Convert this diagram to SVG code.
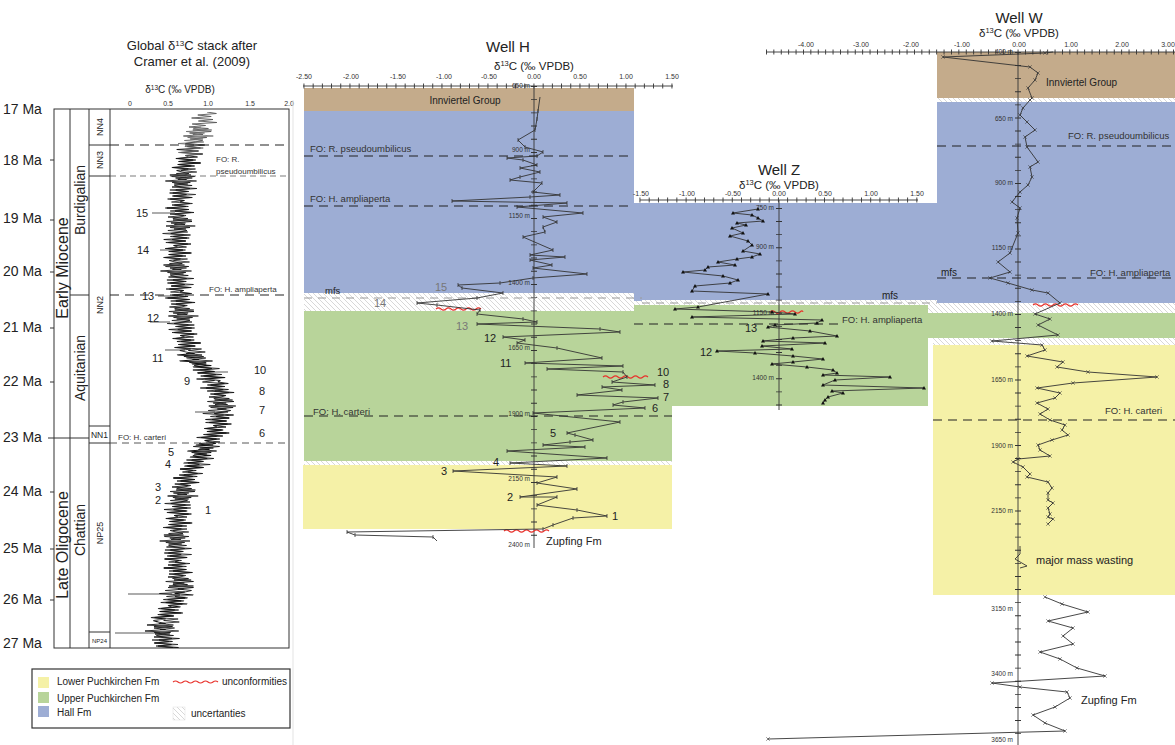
<svg xmlns="http://www.w3.org/2000/svg" width="1175" height="745" viewBox="0 0 1175 745">
<style>
text{font-family:"Liberation Sans",Arial,sans-serif;fill:#222}
.ax{font-size:7px;fill:#333;text-anchor:middle}
.dep{font-size:6.5px;fill:#333;text-anchor:end}
.fo{font-size:9.5px;fill:#333}
.fos{font-size:8px;fill:#333}
.num{font-size:11px;fill:#222}
.gnum{font-size:11px;fill:#777}
.ma{font-size:14px;fill:#222}
.ttl{font-size:15px;text-anchor:middle}
.sub{font-size:11.5px;text-anchor:middle}
.dash{stroke:#222;stroke-width:1.2;stroke-dasharray:9 6;fill:none}
.mfs{stroke:#9a9a9a;stroke-width:1;stroke-dasharray:8 6;fill:none}
.wave{stroke:#e8302a;fill:none;stroke-width:1.1}
.curve{fill:none;stroke:#333;stroke-width:0.9}
.ln{stroke:#333;stroke-width:1;fill:none}
.brown{fill:#C4AB8B}.blue{fill:#9DADD4}.green{fill:#B8D49A}.yellow{fill:#F5F1A7}.hatch{fill:url(#hatch)}
</style>
<defs>
<pattern id="hatch" width="5" height="5" patternUnits="userSpaceOnUse">
<rect width="5" height="5" fill="#fff"/>
<path d="M-1,-1 L6,6 M4,-1 L6,1 M-1,4 L1,6" stroke="#b0b0b0" stroke-width="0.5"/>
</pattern>
<marker id="mH" markerWidth="6" markerHeight="6" refX="3" refY="3" markerUnits="userSpaceOnUse"><path d="M3,1 V5" stroke="#333" stroke-width="0.8"/></marker>
<marker id="mZ" markerWidth="6" markerHeight="6" refX="3" refY="3" markerUnits="userSpaceOnUse"><path d="M1,4.6 L3,1 L5,4.6Z" fill="#111"/></marker>
<marker id="mW" markerWidth="6" markerHeight="6" refX="3" refY="3" markerUnits="userSpaceOnUse"><path d="M1.3,1.3 L4.7,4.7 M4.7,1.3 L1.3,4.7" stroke="#333" stroke-width="0.6"/></marker>
<clipPath id="stackClip"><rect x="110" y="112" width="179" height="536"/></clipPath>
<path id="zA" d="M0,0 L10,1.5 L-8,3 L6,4.5 L-13,6 L9,7.5 L-5,9 L14,10.5 L-10,12 L4,13.5 L-12,15 L8,16.5 L-7,18 L12,19.5 L-9,21 L5,22.5 L-14,24 L10,25.5 L-6,27 L7,28.5 L0,30"/>
<path id="zB" d="M0,0 L-9,1.5 L11,3 L-6,4.5 L8,6 L-15,7.5 L7,9 L-10,10.5 L13,12 L-4,13.5 L9,15 L-12,16.5 L6,18 L-8,19.5 L15,21 L-7,22.5 L10,24 L-11,25.5 L5,27 L-6,28.5 L0,30"/>
<path id="zC" d="M0,0 L7,1.5 L-12,3 L13,4.5 L-6,6 L5,7.5 L-16,9 L9,10.5 L-7,12 L11,13.5 L-9,15 L16,16.5 L-5,18 L8,19.5 L-11,21 L6,22.5 L-8,24 L12,25.5 L-10,27 L4,28.5 L0,30"/>
</defs>
<rect width="1175" height="745" fill="#fff"/>

<!-- ============ LEFT PANEL: global stack ============ -->
<g id="global-stack">
<text x="192" y="50" style="font-size:13px" text-anchor="middle">Global δ<tspan dy="-4" style="font-size:8px">13</tspan><tspan dy="4">C stack after</tspan></text>
<text x="192" y="66" style="font-size:13px" text-anchor="middle">Cramer et al. (2009)</text>
<text x="180" y="93" style="font-size:10px" text-anchor="middle">δ<tspan dy="-3" style="font-size:6.5px">13</tspan><tspan dy="3">C (‰ VPDB)</tspan></text>
<text class="ax" x="130" y="106">0</text><text class="ax" x="168" y="106">0.5</text><text class="ax" x="208" y="106">1.0</text><text class="ax" x="250" y="106">1.5</text><text class="ax" x="289" y="106">2.0</text>
<rect x="54" y="109" width="235" height="539" class="ln"/>
<path class="ln" d="M70,109 V648" stroke-width="1.4"/>
<path class="ln" d="M89,109 V648 M110,109 V648"/>
<path class="ln" d="M70,295 H89 M48,438 H89 M89,145 H110 M89,176 H110 M89,426 H110 M89,443 H110 M89,632 H110"/>
<path class="ln" d="M50,160 H54 M50,220 H54 M50,272 H54 M50,328 H54 M50,382 H54 M50,492 H54 M50,549 H54 M50,600 H54"/>
<text class="ma" x="3" y="114">17 Ma</text>
<text class="ma" x="3" y="165">18 Ma</text>
<text class="ma" x="3" y="223">19 Ma</text>
<text class="ma" x="3" y="276">20 Ma</text>
<text class="ma" x="3" y="332">21 Ma</text>
<text class="ma" x="3" y="386">22 Ma</text>
<text class="ma" x="3" y="442">23 Ma</text>
<text class="ma" x="3" y="496">24 Ma</text>
<text class="ma" x="3" y="553">25 Ma</text>
<text class="ma" x="3" y="604">26 Ma</text>
<text class="ma" x="3" y="648">27 Ma</text>
<text transform="translate(68,268) rotate(-90)" style="font-size:16px" text-anchor="middle">Early Miocene</text>
<text transform="translate(68,545) rotate(-90)" style="font-size:16px" text-anchor="middle">Late Oligocene</text>
<text transform="translate(85,200) rotate(-90)" style="font-size:14px" text-anchor="middle">Burdigalian</text>
<text transform="translate(85,368) rotate(-90)" style="font-size:14px" text-anchor="middle">Aquitanian</text>
<text transform="translate(85,530) rotate(-90)" style="font-size:14px" text-anchor="middle">Chattian</text>
<text transform="translate(103,127) rotate(-90)" style="font-size:9px" text-anchor="middle">NN4</text>
<text transform="translate(103,160) rotate(-90)" style="font-size:9px" text-anchor="middle">NN3</text>
<text transform="translate(103,305) rotate(-90)" style="font-size:9px" text-anchor="middle">NN2</text>
<text transform="translate(103,533) rotate(-90)" style="font-size:9px" text-anchor="middle">NP25</text>
<text x="99.5" y="438" style="font-size:8.5px" text-anchor="middle">NN1</text>
<text x="99.5" y="643" style="font-size:6px" text-anchor="middle">NP24</text>
<g clip-path="url(#stackClip)" fill="none" stroke="#111" stroke-width="0.8">
<use href="#zA" transform="translate(207,112) skewX(-21.8)" stroke="#555"/>
<use href="#zB" transform="translate(195,142) skewX(-23.4)"/>
<use href="#zC" transform="translate(182,172) skewX(-3.8)"/>
<use href="#zA" transform="translate(180,202) skewX(0)"/>
<use href="#zB" transform="translate(180,232) skewX(-9.5)"/>
<use href="#zC" transform="translate(175,262) skewX(9.5)"/>
<use href="#zA" transform="translate(180,292) skewX(5.7)"/>
<use href="#zB" transform="translate(183,322) skewX(5.7)"/>
<use href="#zC" transform="translate(186,352) skewX(46.8)"/>
<use href="#zA" transform="translate(218,382) skewX(11.3)"/>
<use href="#zB" transform="translate(224,412) skewX(-25)"/>
<use href="#zC" transform="translate(210,442) skewX(-36.3)"/>
<use href="#zA" transform="translate(188,472) skewX(-14.9)"/>
<use href="#zB" transform="translate(180,502) skewX(-7.6)"/>
<use href="#zC" transform="translate(176,532) skewX(-1.9)"/>
<use href="#zA" transform="translate(175,562) skewX(18.4)"/>
<use href="#zB" transform="translate(185,592) skewX(-42)"/>
<use href="#zC" transform="translate(158,622) skewX(18.4)"/>
<g stroke-width="0.7">
<use href="#zC" transform="translate(201,127) skewX(-22.6) scale(-1,1)" stroke="#666"/>
<use href="#zA" transform="translate(188.5,157) skewX(-14) scale(-1,1)"/>
<use href="#zB" transform="translate(181,187) skewX(-1.9) scale(-1,1)"/>
<use href="#zC" transform="translate(180,217) skewX(-4.8) scale(-1,1)"/>
<use href="#zA" transform="translate(177.5,247) skewX(0) scale(-1,1)"/>
<use href="#zB" transform="translate(177.5,277) skewX(7.6) scale(-1,1)"/>
<use href="#zC" transform="translate(181.5,307) skewX(5.7) scale(-1,1)"/>
<use href="#zA" transform="translate(184.5,337) skewX(30.3) scale(-1,1)"/>
<use href="#zB" transform="translate(202,367) skewX(32.3) scale(-1,1)"/>
<use href="#zC" transform="translate(221,397) skewX(-7.6) scale(-1,1)"/>
<use href="#zA" transform="translate(217,427) skewX(-31) scale(-1,1)"/>
<use href="#zB" transform="translate(199,457) skewX(-26.6) scale(-1,1)"/>
<use href="#zC" transform="translate(184,487) skewX(-11.3) scale(-1,1)"/>
<use href="#zA" transform="translate(178,517) skewX(-4.8) scale(-1,1)"/>
<use href="#zB" transform="translate(175.5,547) skewX(8.5) scale(-1,1)"/>
<use href="#zC" transform="translate(180,577) skewX(-15.8) scale(-1,1)"/>
<use href="#zA" transform="translate(171.5,607) skewX(-15.8) scale(-1,1)"/>
<use href="#zB" transform="translate(163,637) skewX(0) scale(-1,1)"/>
</g>
<path d="M128,594 H172 M115,633 H160 M158,296 H178 M165,350 H185 M195,412 H215 M152,213 H175 M160,250 H180 M150,322 H170 M205,372 H228" stroke-width="0.7"/>
</g>
<path class="dash" d="M110,145 H289 M110,295 H289"/>
<path d="M110,176 H289" stroke="#444" stroke-width="0.7" stroke-dasharray="6 4"/>
<path d="M110,443 H289" stroke="#444" stroke-width="0.9" stroke-dasharray="7 5"/>
<text class="fos" x="216" y="162">FO: R.</text>
<text class="fos" x="216" y="174">pseudoumbilicus</text>
<text class="fos" x="209" y="292">FO: H. ampliaperta</text>
<text class="fos" x="118" y="440">FO: H. carteri</text>
<g>
<text class="num" x="136" y="217">15</text><text class="num" x="137" y="254">14</text><text class="num" x="142" y="300">13</text>
<text class="num" x="147" y="322">12</text><text class="num" x="152" y="362">11</text><text class="num" x="254" y="374">10</text>
<text class="num" x="184" y="385">9</text><text class="num" x="259" y="395">8</text><text class="num" x="259" y="414">7</text>
<text class="num" x="259" y="437">6</text><text class="num" x="168" y="456">5</text><text class="num" x="165" y="468">4</text>
<text class="num" x="155" y="491">3</text><text class="num" x="155" y="504">2</text><text class="num" x="205" y="514">1</text>
</g>
<path d="M293,100 V745" stroke="#e3e3e3" stroke-width="1"/>
</g>

<!-- ============ LEGEND ============ -->
<g id="legend">
<rect x="32" y="669" width="258" height="59" fill="#fff" stroke="#333" stroke-width="1.2"/>
<rect x="38" y="677" width="11" height="11" class="yellow"/>
<rect x="38" y="692" width="11" height="11" class="green"/>
<rect x="38" y="706" width="11" height="11" class="blue"/>
<text x="57" y="685" style="font-size:10px">Lower Puchkirchen Fm</text>
<text x="57" y="702" style="font-size:10px">Upper Puchkirchen Fm</text>
<text x="57" y="716" style="font-size:10px">Hall Fm</text>
<path class="wave" d="M173,682 q2.5,-2 5,0 t5,0 t5,0 t5,0 t5,0 t5,0 t5,0 t5,0 t5,0"/>
<text x="222" y="685" style="font-size:10px">unconformities</text>
<rect x="173" y="707" width="12" height="13" class="hatch" stroke="#ddd" stroke-width="0.5"/>
<text x="191" y="717" style="font-size:10px">uncertanties</text>
</g>

<!-- ============ STRATIGRAPHIC BANDS ============ -->
<g id="bands">
<rect x="304" y="88" width="330" height="23" class="brown"/>
<rect x="304" y="111" width="330" height="182" class="blue"/>
<rect x="304" y="293" width="338" height="18" class="hatch"/>
<rect x="304" y="311" width="368" height="150" class="green"/>
<rect x="304" y="461" width="368" height="4" class="hatch"/>
<rect x="303" y="465" width="369" height="64" class="yellow"/>
<rect x="634" y="203" width="303" height="98" class="blue"/>
<rect x="642" y="300" width="295" height="5" class="hatch"/>
<rect x="634" y="305" width="294" height="101" class="green"/>
<rect x="937" y="52" width="238" height="46" class="brown"/>
<rect x="937" y="98" width="238" height="4" class="hatch"/>
<rect x="937" y="102" width="238" height="201" class="blue"/>
<rect x="928" y="303" width="247" height="10" class="hatch"/>
<rect x="928" y="313" width="247" height="25" class="green"/>
<rect x="933" y="338" width="242" height="7" class="hatch"/>
<rect x="933" y="345" width="242" height="250" class="yellow"/>
</g>

<!-- ============ WELL H ============ -->
<g id="well-h">
<text class="ttl" x="508" y="52">Well H</text>
<text class="sub" x="534" y="70">δ<tspan dy="-4" style="font-size:7.5px">13</tspan><tspan dy="4">C (‰ VPDB)</tspan></text>
<text class="ax" x="304" y="79">-2.50</text><text class="ax" x="351" y="79">-2.00</text><text class="ax" x="398" y="79">-1.50</text>
<text class="ax" x="444" y="79">-1.00</text><text class="ax" x="489" y="79">-0.50</text><text class="ax" x="534" y="79">0.00</text>
<text class="ax" x="580" y="79">0.50</text><text class="ax" x="626" y="79">1.00</text><text class="ax" x="672" y="79">1.50</text>
<path d="M303,86 H673" stroke="#333" stroke-width="0.9"/>
<path d="M303.5,86 H674" stroke="#333" stroke-width="5" stroke-dasharray="0.9 8.3"/>
<path d="M534,86 V548" stroke="#333" stroke-width="0.9"/>
<path d="M534,86 V548" stroke="#333" stroke-width="6" stroke-dasharray="0.9 12.3"/>
<text class="dep" x="530" y="88">650 m</text><text class="dep" x="530" y="152">900 m</text><text class="dep" x="530" y="218">1150 m</text>
<text class="dep" x="530" y="285">1400 m</text><text class="dep" x="530" y="350">1650 m</text><text class="dep" x="530" y="416">1900 m</text>
<text class="dep" x="530" y="481">2150 m</text><text class="dep" x="530" y="547">2400 m</text>
<text x="465" y="104" style="font-size:10px" text-anchor="middle" fill="#333">Innviertel Group</text>
<path class="dash" d="M304,156 H634 M304,206 H634 M304,416 H672"/>
<path class="mfs" d="M304,298 H642"/>
<text class="fo" x="310" y="152">FO: R. pseudoumbilicus</text>
<text class="fo" x="310" y="202">FO: H. ampliaperta</text>
<text class="fo" x="313" y="415">FO: H. carteri</text>
<text x="325" y="294" style="font-size:9.5px">mfs</text>
<path class="wave" d="M436,309 q2.5,-2.2 5,0 t5,0 t5,0 t5,0 t5,0 t5,0 t5,0 t5,0 t5,0"/>
<path class="wave" d="M603,377 q2.5,-2.2 5,0 t5,0 t5,0 t5,0 t5,0 t5,0 t5,0 t5,0 t5,0"/>
<path class="wave" d="M504,531 q2.5,-2.2 5,0 t5,0 t5,0 t5,0 t5,0 t5,0 t5,0 t5,0 t5,0"/>
<polyline class="curve" marker-mid="url(#mH)" points="540,97 538,111 537,119 535,130 518,140 525,147 543,152 537,156 507,158 523,160 537,165 520,168 540,172 520,177 510,180 542,183 533,192 560,195 530,197 452,201 567,203 517,207 583,213 543,217 557,222 543,227 545,232 523,237 553,250 530,255 565,257 530,260 552,265 533,268 587,274 533,278 500,283 458,285 462,288 503,293 477,298 417,303 437,305 480,310 477,314 523,319 537,322 477,324 600,329 620,332 503,337 525,340 517,343 557,348 602,358 525,363 623,366 547,369 623,372 627,377 612,382 655,385 602,387 622,390 577,395 658,398 623,402 613,405 645,408 533,413 620,422 567,433 575,435 593,440 570,442 543,445 585,447 507,451 607,458 510,463 567,466 453,471 557,477 537,483 577,489 520,497 557,497 537,505 577,510 607,516 573,518 553,525 543,529 347,532 355,535 433,537 437,541"/>
<text class="gnum" x="435" y="291">15</text>
<text class="gnum" x="374" y="307">14</text>
<text class="gnum" x="456" y="330">13</text>
<text class="num" x="484" y="342">12</text>
<text class="num" x="500" y="367">11</text>
<text class="num" x="657" y="376">10</text>
<text class="num" x="663" y="388">8</text>
<text class="num" x="663" y="401">7</text>
<text class="num" x="652" y="412">6</text>
<text class="num" x="550" y="437">5</text>
<text class="num" x="493" y="466">4</text>
<text class="num" x="441" y="475">3</text>
<text class="num" x="507" y="501">2</text>
<text class="num" x="612" y="520">1</text>
<text x="546" y="545" style="font-size:11px">Zupfing Fm</text>
</g>

<!-- ============ WELL Z ============ -->
<g id="well-z">
<text class="ttl" x="779" y="175">Well Z</text>
<text class="sub" x="779" y="189">δ<tspan dy="-4" style="font-size:7.5px">13</tspan><tspan dy="4">C (‰ VPDB)</tspan></text>
<text class="ax" x="641" y="196">-1.50</text><text class="ax" x="687" y="196">-1.00</text><text class="ax" x="733" y="196">-0.50</text>
<text class="ax" x="779" y="196">0.00</text><text class="ax" x="825" y="196">0.50</text><text class="ax" x="871" y="196">1.00</text><text class="ax" x="917" y="196">1.50</text>
<path d="M640,200 H918" stroke="#333" stroke-width="0.9"/>
<path d="M639.5,200 H919" stroke="#333" stroke-width="5" stroke-dasharray="0.9 8.33"/>
<path d="M779,200 V410" stroke="#333" stroke-width="0.9"/>
<path d="M779,208 V410" stroke="#333" stroke-width="6" stroke-dasharray="0.9 12.2"/>
<text class="dep" x="774" y="210">750 m</text><text class="dep" x="774" y="249">900 m</text>
<text class="dep" x="774" y="315">1150 m</text><text class="dep" x="774" y="380">1400 m</text>
<path class="mfs" d="M642,303 H937"/>
<path class="dash" d="M634,324 H840"/>
<text x="890" y="299" style="font-size:10px" text-anchor="middle">mfs</text>
<text class="fo" x="842" y="323">FO: H. ampliaperta</text>
<path class="wave" d="M770,312 q2.5,-2.2 5,0 t5,0 t5,0 t5,0 t5,0 t5,0 t3,0"/>
<polyline class="curve" marker-mid="url(#mZ)" marker-start="url(#mZ)" marker-end="url(#mZ)" points="758,209 733,213 752,215 758,218 763,221 737,223 746,225 732,228 743,233 730,236 748,241 752,245 743,251 760,254 752,257 737,259 718,262 735,265 708,267 705,270 683,272 723,276 738,280 730,283 695,286 692,291 768,294 698,307 675,309 772,312 795,314 692,317 822,320 817,323 775,325 768,327 810,331 837,336 793,338 763,341 825,343 762,346 792,349 717,351 755,353 793,356 823,359 793,362 772,364 807,367 833,370 837,373 823,375 890,377 835,380 823,385 924,388 832,391 843,393 828,397 825,400 823,403"/>
<text class="num" x="745" y="332">13</text>
<text class="num" x="700" y="356">12</text>
</g>

<!-- ============ WELL W ============ -->
<g id="well-w">
<text class="ttl" x="1019" y="23">Well W</text>
<text class="sub" x="1019" y="37">δ<tspan dy="-4" style="font-size:7.5px">13</tspan><tspan dy="4">C (‰ VPDB)</tspan></text>
<text class="ax" x="806" y="47">-4.00</text><text class="ax" x="861" y="47">-3.00</text><text class="ax" x="911" y="47">-2.00</text>
<text class="ax" x="962" y="47">-1.00</text><text class="ax" x="1019" y="47">0.00</text><text class="ax" x="1071" y="47">1.00</text>
<text class="ax" x="1122" y="47">2.00</text><text class="ax" x="1168" y="47">3.00</text>
<path d="M766,52 H1175" stroke="#333" stroke-width="0.9"/>
<path d="M766,52 H1175" stroke="#333" stroke-width="5" stroke-dasharray="0.9 6.5"/>
<path d="M1018,52 V745" stroke="#333" stroke-width="0.9"/>
<path d="M1018,52 V745" stroke="#333" stroke-width="6" stroke-dasharray="0.9 12.2"/>
<text class="dep" x="1013" y="54">400 m</text><text class="dep" x="1013" y="121">650 m</text><text class="dep" x="1013" y="185">900 m</text>
<text class="dep" x="1013" y="250">1150 m</text><text class="dep" x="1013" y="316">1400 m</text><text class="dep" x="1013" y="382">1650 m</text>
<text class="dep" x="1013" y="448">1900 m</text><text class="dep" x="1013" y="513">2150 m</text><text class="dep" x="1013" y="611">3150 m</text>
<text class="dep" x="1013" y="676">3400 m</text><text class="dep" x="1013" y="742">3650 m</text>
<text x="1046" y="86" style="font-size:10px" fill="#333">Innviertel Group</text>
<path class="dash" d="M937,146 H1175 M937,278 H1175 M933,420 H1175" stroke-width="1.4"/>
<text class="fo" x="1068" y="139">FO: R. pseudoumbilicus</text>
<text x="941" y="276" style="font-size:10px">mfs</text>
<text class="fo" x="1090" y="276">FO: H. ampliaperta</text>
<text class="fo" x="1105" y="414">FO: H. carteri</text>
<path class="wave" d="M1033,305 q2.5,-2.2 5,0 t5,0 t5,0 t5,0 t5,0 t5,0 t5,0 t5,0 t5,0"/>
<polyline class="curve" marker-mid="url(#mW)" marker-end="url(#mW)" points="1053,52 1045,53 943,57 1030,67 1038,73 1035,80 1028,88 1032,98 1030,100 1023,108 1020,115 1027,122 1035,130 1025,137 1027,147 1038,162 1030,167 1032,177 1028,185 1020,192 1012,202 1020,208 1017,218 1018,233 1010,253 998,262 1010,272 990,278 1008,283 1032,290 1048,293 1060,303 1035,314 1050,319 1038,325 1058,335 992,341 1042,345 1045,350 1027,356 1063,362 1057,367 1088,372 1157,377 1073,383 1037,388 1060,393 1055,398 1037,403 1048,409 1040,414 1050,420 1065,425 1062,430 1068,435 1052,440 1038,445 1040,450 1050,456 1018,459 1013,462 1023,467 1030,474 1027,477 1048,482 1052,488 1048,493 1048,500 1053,503 1048,508 1050,514 1048,517 1053,519 1048,524"/>
<polyline class="curve" points="1020,546 1020,554 1015,559 1027,566 1020,568"/>
<polyline class="curve" marker-mid="url(#mW)" marker-start="url(#mW)" marker-end="url(#mW)" points="1045,597 1062,604 1088,612 1048,621 1073,628 1063,636 1073,644 1040,652 1060,659 1077,668 1105,676 992,683 1020,687 1067,692 1070,698 1055,707 1033,715 1045,723 1065,731 768,739"/>
<text x="1036" y="564" style="font-size:11px" fill="#555">major mass wasting</text>
<text x="1081" y="704" style="font-size:11px">Zupfing Fm</text>
</g>
</svg>
